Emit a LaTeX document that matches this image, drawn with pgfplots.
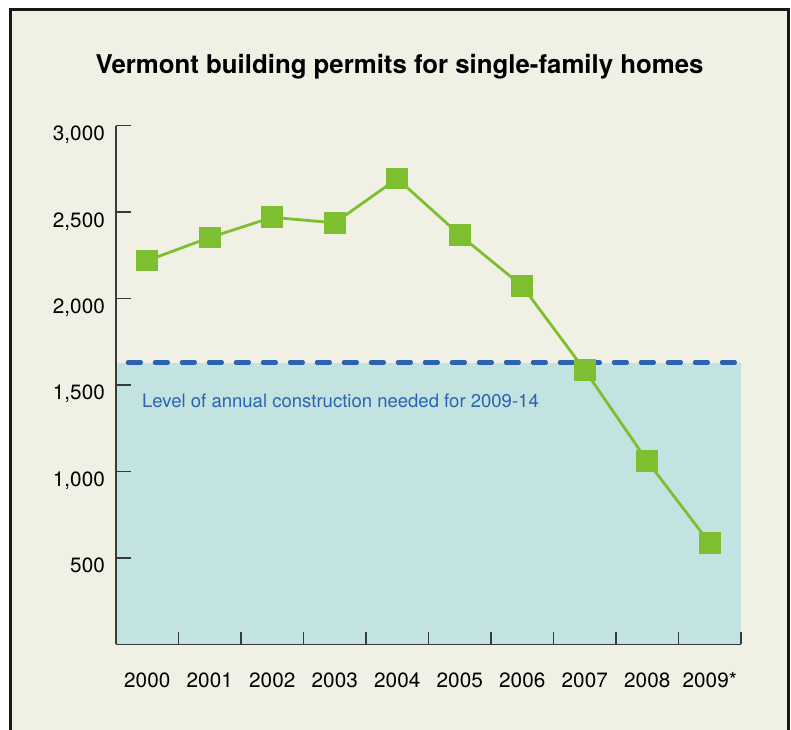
\documentclass[border=0pt]{standalone}
\usepackage{fontspec}
\setmainfont{TeX Gyre Heros}
\usepackage{pgfplots}
\pgfplotsset{compat=1.18}
\definecolor{cream}{HTML}{F1F0E5}
\definecolor{shade}{HTML}{C3E3E0}
\definecolor{lineblue}{HTML}{2B63B2}
\definecolor{lgreen}{HTML}{7DBF31}
\definecolor{axgray}{HTML}{3A3A3A}
\begin{document}
\begin{tikzpicture}
\useasboundingbox (0,0) rectangle (791bp,730bp);
\fill[white] (0,0) rectangle (791bp,730bp);
\draw[line width=3bp, fill=cream, draw=black!90] (10.5bp,-20bp) rectangle (788.5bp,720.5bp);
\node[anchor=base, inner sep=0, font=\fontsize{25.9}{30}\selectfont\bfseries] at (399.5bp,656bp) {Vermont building permits for single-family homes};
\begin{axis}[
  at={(116bp,85.7bp)}, anchor=south west,
  scale only axis, width=625bp, height=518.6bp,
  xmin=-0.5, xmax=9.5, ymin=0, ymax=3000,
  axis on top,
  axis x line*=bottom, axis y line*=left,
  axis line style={axgray, line width=1.4bp},
  tick align=inside,
  major tick length=15bp,
  minor tick length=12bp,
  xtick={0,...,9},
  xticklabels={2000,2001,2002,2003,2004,2005,2006,2007,2008,2009*},
  minor xtick={0.5,1.5,...,9.5},
  every major x tick/.append style={draw=none},
  every minor x tick/.append style={axgray, line width=1.2bp},
  ytick={500,1000,...,3000},
  every major y tick/.append style={axgray, line width=1.3bp},
  /pgf/number format/assume math mode=true,
  /pgf/number format/1000 sep={,},
  xticklabel style={anchor=base, inner sep=0, yshift=-43bp, font=\fontsize{20.8}{24}\selectfont},
  yticklabel style={anchor=base east, inner sep=0, xshift=-11bp, yshift=-15bp, font=\fontsize{20.8}{24}\selectfont},
  clip=false,
]
\addplot[fill=shade, draw=none] coordinates {(-0.5,1630) (9.5,1630)} \closedcycle;
\addplot[lineblue, line width=4.2bp, line cap=round, dash pattern=on 13bp off 14bp] coordinates {(-0.31,1630) (9.47,1630)};
\node[anchor=base west, inner sep=0, text=lineblue, font=\fontsize{18.6}{22}\selectfont] at (axis cs:-0.085,1367) {Level of annual construction needed for 2009-14};
\addplot[lgreen, line width=2.8bp, mark=square*, mark size=9.5bp, mark options={fill=lgreen, draw=none}] coordinates {
(0,2220) (1,2353) (2,2470) (3,2438) (4,2694) (5,2368) (6,2072) (7,1586) (8,1060) (9,584)};
\end{axis}
\end{tikzpicture}
\end{document}
